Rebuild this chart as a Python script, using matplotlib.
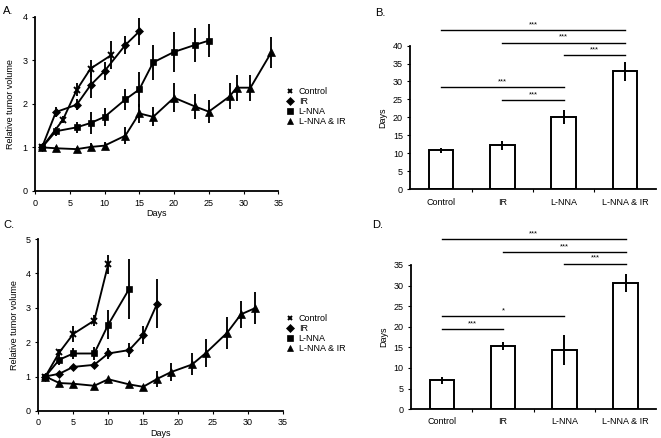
"""Tumor growth curves and survival-time bars (panels A-D)."""

import matplotlib
matplotlib.use("Agg")
import matplotlib.pyplot as plt
from matplotlib.lines import Line2D

plt.rcParams["font.family"] = ["Liberation Sans", "DejaVu Sans"]
plt.rcParams["font.size"] = 6.5

# ---- panel A: relative tumor volume ----
ctrl_days_a = [1, 4, 6, 8, 11]
ctrl_a = [1.0, 1.63, 2.32, 2.81, 3.12]
ctrl_err_a = [0, 0.08, 0.15, 0.2, 0.32]
ir_days_a = [1, 3, 6, 8, 10, 13, 15]
ir_a = [1.0, 1.81, 1.98, 2.43, 2.75, 3.35, 3.66]
ir_err_a = [0, 0.12, 0.12, 0.3, 0.2, 0.2, 0.3]
lnna_days_a = [1, 3, 6, 8, 10, 13, 15, 17, 20, 23, 25]
lnna_a = [1.0, 1.37, 1.46, 1.56, 1.70, 2.10, 2.33, 2.95, 3.19, 3.35, 3.45]
lnna_err_a = [0, 0.1, 0.12, 0.25, 0.2, 0.25, 0.4, 0.4, 0.45, 0.38, 0.38]
comb_days_a = [1, 3, 6, 8, 10, 13, 15, 17, 20, 23, 25, 28, 29, 31, 34]
comb_a = [1.0, 0.98, 0.96, 1.01, 1.04, 1.27, 1.78, 1.70, 2.14, 1.94, 1.82,
          2.17, 2.37, 2.37, 3.18]
comb_err_a = [0, 0.05, 0.05, 0.08, 0.08, 0.2, 0.22, 0.22, 0.33, 0.28, 0.27,
              0.3, 0.3, 0.3, 0.36]

# ---- panel C ----
ctrl_days_c = [1, 3, 5, 8, 10]
ctrl_c = [1.0, 1.70, 2.24, 2.63, 4.27]
ctrl_err_c = [0, 0.1, 0.24, 0.15, 0.28]
ir_days_c = [1, 3, 5, 8, 10, 13, 15, 17]
ir_c = [1.0, 1.08, 1.28, 1.34, 1.67, 1.77, 2.21, 3.12]
ir_err_c = [0, 0.04, 0.06, 0.06, 0.15, 0.2, 0.25, 0.72]
lnna_days_c = [1, 3, 5, 8, 10, 13]
lnna_c = [1.0, 1.49, 1.67, 1.67, 2.51, 3.55]
lnna_err_c = [0, 0.15, 0.17, 0.2, 0.42, 0.88]
comb_days_c = [1, 3, 5, 8, 10, 13, 15, 17, 19, 22, 24, 27, 29, 31]
comb_c = [1.0, 0.81, 0.79, 0.73, 0.92, 0.77, 0.70, 0.93, 1.13, 1.35, 1.69,
          2.27, 2.81, 2.99]
comb_err_c = [0, 0.05, 0.05, 0.04, 0.05, 0.06, 0.06, 0.24, 0.27, 0.32, 0.4,
              0.46, 0.4, 0.47]

# ---- panels B and D: days ----
groups = ["Control", "IR", "L-NNA", "L-NNA & IR"]
days_b = [10.8, 12.2, 20.1, 32.8]
days_err_b = [0.7, 1.2, 1.9, 2.6]
days_d = [7.0, 15.4, 14.4, 30.6]
days_err_d = [0.9, 1.0, 3.7, 2.2]

# (from group, to group, height, label)
sig_b = [(0, 3, 44.2, "***"), (1, 3, 40.8, "***"), (2, 3, 37.4, "***"),
         (0, 2, 28.4, "***"), (1, 2, 24.9, "***")]
sig_d = [(0, 3, 41.3, "***"), (1, 3, 38.1, "***"), (2, 3, 35.3, "***"),
         (0, 2, 22.6, "*"), (0, 1, 19.4, "***")]

markers = ["x", "D", "s", "^"]
msizes = [3.8, 4.3, 4.8, 5.2]
labels = ["Control", "IR", "L-NNA", "L-NNA & IR"]


def style_axes(ax):
    for side in ["top", "right"]:
        ax.spines[side].set_visible(False)
    for side in ["left", "bottom"]:
        ax.spines[side].set_linewidth(1.3)
    ax.tick_params(direction="out", length=2.5, width=0.8, pad=3,
                   labelsize=6.5)


def growth_panel(ax, series, ymax):
    for (d, v, e), m, ms in zip(series, markers, msizes):
        ax.errorbar(d, v, yerr=e, color="black", lw=1.35, elinewidth=1.35,
                    capsize=0, marker=m, ms=ms, mew=1.4 if m == "x" else 0.5,
                    mfc="black", mec="black")
    ax.set_xlim(0, 35)
    ax.set_ylim(0, ymax)
    ax.set_xticks(range(0, 36, 5))
    ax.set_yticks(range(0, ymax + 1))
    ax.set_xlabel("Days", labelpad=1)
    ax.set_ylabel("Relative tumor volume", labelpad=5)
    style_axes(ax)


def bar_panel(ax, vals, errs, sig, ymax, step):
    x = range(len(vals))
    ax.bar(x, vals, width=0.4, color="white", edgecolor="black", lw=1.4,
           yerr=errs, error_kw=dict(elinewidth=1.4, capsize=0, ecolor="black"))
    ax.set_xlim(-0.5, 3.5)
    ax.set_ylim(0, ymax)
    ax.set_yticks(range(0, ymax + 1, step))
    ax.set_xticks([0.5, 1.5, 2.5])
    ax.set_xticklabels([])
    ax.set_xticks(list(x), minor=True)
    ax.set_xticklabels(groups, minor=True)
    ax.tick_params(axis="x", which="minor", length=0, pad=6, labelsize=6.5)
    ax.set_ylabel("Days", labelpad=4)
    style_axes(ax)
    for a, b, h, txt in sig:
        ax.plot([a, b], [h, h], color="black", lw=1.0, clip_on=False)
        ax.text((a + b) / 2, h + 0.5, txt, ha="center", va="bottom",
                fontsize=5.5)


fig = plt.figure(figsize=(6.61, 4.38), dpi=100)
ax_a = fig.add_axes([0.053, 0.564, 0.368, 0.398])
ax_b = fig.add_axes([0.621, 0.568, 0.371, 0.328])
ax_c = fig.add_axes([0.058, 0.062, 0.370, 0.392])
ax_d = fig.add_axes([0.622, 0.066, 0.371, 0.329])

growth_panel(ax_a, [(ctrl_days_a, ctrl_a, ctrl_err_a),
                    (ir_days_a, ir_a, ir_err_a),
                    (lnna_days_a, lnna_a, lnna_err_a),
                    (comb_days_a, comb_a, comb_err_a)], 4)
growth_panel(ax_c, [(ctrl_days_c, ctrl_c, ctrl_err_c),
                    (ir_days_c, ir_c, ir_err_c),
                    (lnna_days_c, lnna_c, lnna_err_c),
                    (comb_days_c, comb_c, comb_err_c)], 5)
bar_panel(ax_b, days_b, days_err_b, sig_b, 40, 5)
bar_panel(ax_d, days_d, days_err_d, sig_d, 35, 5)

# marker-only legends to the right of the growth panels
handles = [Line2D([], [], ls="none", marker=m, ms=ms * 0.9, color="black",
                  mew=1.4 if m == "x" else 0.5)
           for m, ms in zip(markers, msizes)]
for ytop in [1 - 87 / 438, 1 - 314 / 438]:
    fig.legend(handles, labels, loc="upper left",
               bbox_to_anchor=(286 / 661, ytop), frameon=False,
               fontsize=6.5, handlelength=0.8, handletextpad=0.6,
               labelspacing=0.12, borderpad=0, borderaxespad=0)

fig.text(0.005, 0.975, "A.", fontsize=8, va="center")
fig.text(0.568, 0.97, "B.", fontsize=8, va="center")
fig.text(0.005, 0.487, "C.", fontsize=8, va="center")
fig.text(0.563, 0.487, "D.", fontsize=8, va="center")

fig.savefig("out.png", dpi=100)
